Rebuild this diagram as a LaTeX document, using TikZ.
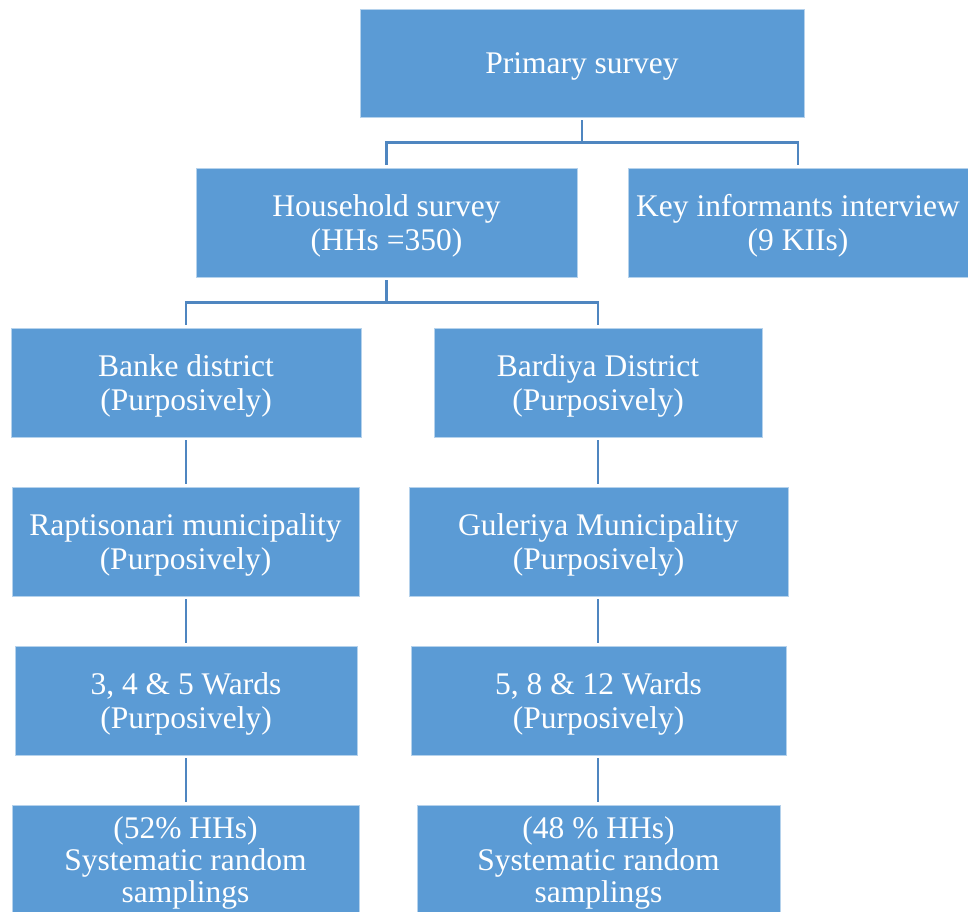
\documentclass[tikz,border=0pt]{standalone}
\usepackage{fontspec}
\setmainfont{Liberation Serif}
\definecolor{boxblue}{HTML}{5B9BD5}
\definecolor{linkblue}{HTML}{4F86C0}
% first-line strut that sets where the text block sits in its box
\newcommand{\toppad}{\rule{0pt}{28.5pt}}
\begin{document}
\begin{tikzpicture}[x=1pt,y=-1pt,
  box/.style={rectangle, fill=boxblue, draw=white!55!boxblue, line width=0.8pt,
    inner sep=0pt, text=white, align=center,
    font=\fontsize{31.5}{33.5}\selectfont},
  conn/.style={draw=linkblue, line width=2.6pt, shorten <=3pt, shorten >=3pt}]
\clip (0,0) rectangle (968,911);
\useasboundingbox (0,0) rectangle (968,911);

% top level
\node[box, minimum width=444, minimum height=108] (primary) at (582,63) {\toppad Primary survey};

% second level
\node[box, minimum width=381, minimum height=109] (hh) at (386.5,222.5) {\toppad Household survey\\(HHs =350)};
\node[box, minimum width=340, minimum height=109] (kii) at (798,222.5) {\toppad Key informants interview\\(9 KIIs)};

% districts
\node[box, minimum width=350, minimum height=109] (banke) at (186,382.5) {\toppad Banke district\\(Purposively)};
\node[box, minimum width=328, minimum height=109] (bardiya) at (598,382.5) {\toppad Bardiya District\\(Purposively)};

% municipalities
\node[box, minimum width=347, minimum height=109] (rapti) at (185.5,541.5) {\toppad Raptisonari municipality\\(Purposively)};
\node[box, minimum width=379, minimum height=109] (guleriya) at (598.5,541.5) {\toppad Guleriya Municipality\\(Purposively)};

% wards
\node[box, minimum width=342, minimum height=109] (wleft) at (186,700.5) {\toppad 3, 4 \& 5 Wards\\(Purposively)};
\node[box, minimum width=375, minimum height=109] (wright) at (598.5,700.5) {\toppad 5, 8 \& 12 Wards\\(Purposively)};

% sampling
\node[box, minimum width=347, minimum height=109, font=\fontsize{31.5}{32.3}\selectfont] (sleft) at (185.5,859.5) {\toppad (52\% HHs)\\Systematic random\\samplings};
\node[box, minimum width=363, minimum height=109, font=\fontsize{31.5}{32.3}\selectfont] (sright) at (598.5,859.5) {\toppad (48 \% HHs)\\Systematic random\\samplings};

% branching connectors
\draw[conn] (primary.south) -- ++(0,25) -| (hh.north);
\draw[conn] (primary.south) -- ++(0,25) -| (kii.north);
\draw[conn] (hh.south) -- ++(0,25) -| (banke.north);
\draw[conn] (hh.south) -- ++(0,25) -| (bardiya.north);

% straight chains
\draw[conn] (banke.south) -- (banke.south |- rapti.north);
\draw[conn] (rapti.south -| banke.south) -- (banke.south |- wleft.north);
\draw[conn] (wleft.south -| banke.south) -- (banke.south |- sleft.north);
\draw[conn] (bardiya.south) -- (bardiya.south |- guleriya.north);
\draw[conn] (guleriya.south -| bardiya.south) -- (bardiya.south |- wright.north);
\draw[conn] (wright.south -| bardiya.south) -- (bardiya.south |- sright.north);
\end{tikzpicture}
\end{document}
